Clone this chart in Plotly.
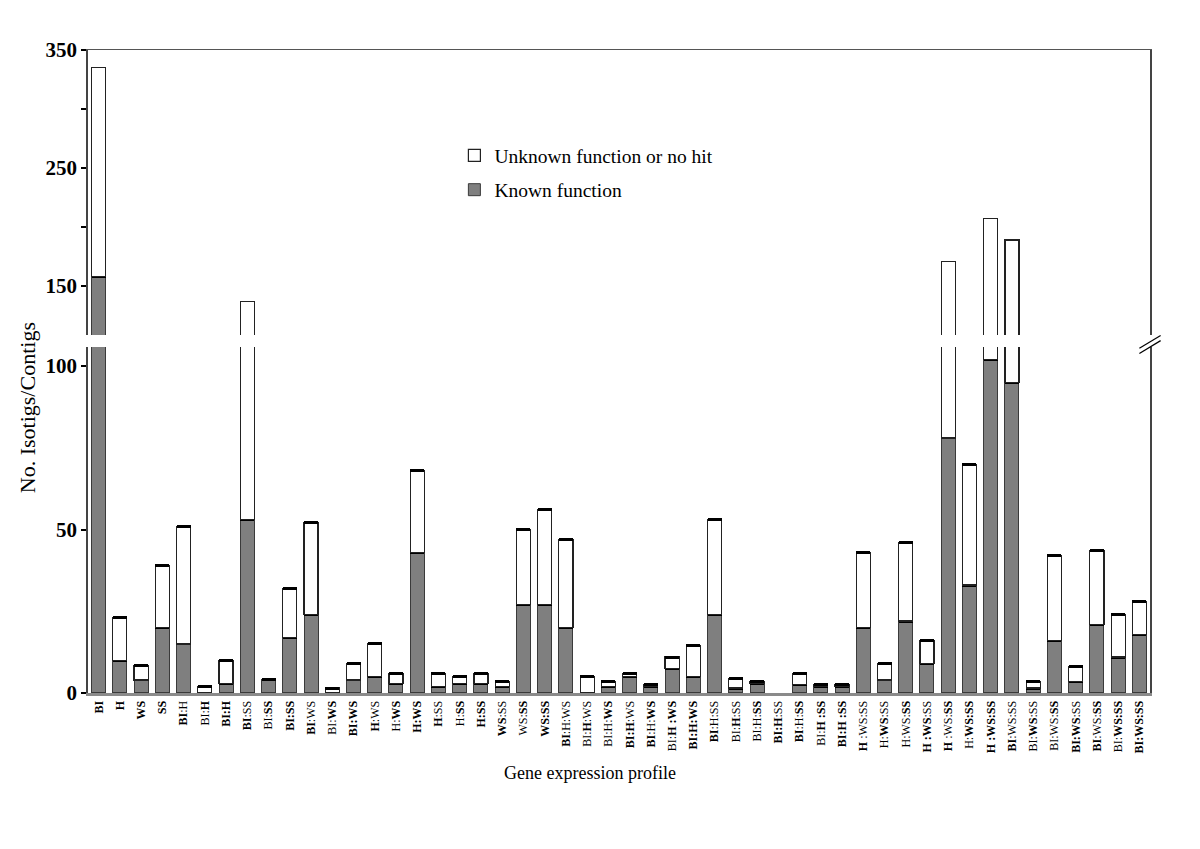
import plotly.graph_objects as go

# x categories (bold marks the tissue(s) in the original labels)
labels = [
    "<b>BI</b>", "<b>H</b>", "<b>WS</b>", "<b>SS</b>",
    "<b>BI</b>:H", "BI:<b>H</b>", "<b>BI:H</b>",
    "<b>BI</b>:SS", "BI:<b>SS</b>", "<b>BI:SS</b>",
    "<b>BI</b>:WS", "BI:<b>WS</b>", "<b>BI:WS</b>",
    "<b>H</b>:WS", "H:<b>WS</b>", "<b>H:WS</b>",
    "<b>H</b>:SS", "H:<b>SS</b>", "<b>H:SS</b>",
    "<b>WS</b>:SS", "WS:<b>SS</b>", "<b>WS:SS</b>",
    "<b>BI</b>:H:WS", "BI:<b>H</b>:WS", "BI:H:<b>WS</b>", "<b>BI:H</b>:WS",
    "<b>BI</b>:H:<b>WS</b>", "BI:<b>H :WS</b>", "<b>BI:H:WS</b>",
    "<b>BI</b>:H:SS", "BI:<b>H</b>:SS", "BI:H:<b>SS</b>", "<b>BI:H</b>:SS",
    "<b>BI</b>:H:<b>SS</b>", "BI:<b>H :SS</b>", "<b>BI:H :SS</b>",
    "<b>H</b> :WS:SS", "H:<b>WS</b>:SS", "H:WS:<b>SS</b>", "<b>H :WS</b>:SS",
    "<b>H</b> :WS:<b>SS</b>", "H:<b>WS:SS</b>", "<b>H :WS:SS</b>",
    "<b>BI</b>:WS:SS", "BI:<b>WS</b>:SS", "BI:WS:<b>SS</b>", "<b>BI:WS</b>:SS",
    "<b>BI</b>:WS:<b>SS</b>", "BI:<b>WS:SS</b>", "<b>BI:WS:SS</b>",
]

known = [158, 10, 4, 20, 15, 0, 3, 53, 4, 17,
         24, 0, 4, 5, 3, 43, 2, 3, 3, 2,
         27, 27, 20, 0, 2, 5, 2, 7.5, 5, 24,
         1.5, 3, 0, 2.5, 2, 2, 20, 4, 22, 9,
         78, 33, 102, 95, 1.5, 16, 3.5, 21, 11, 18]

unknown = [177, 13, 4.5, 19, 36, 2, 7, 84, 0, 15,
           28, 1.5, 5, 10, 3, 25, 4, 2, 3, 1.5,
           23, 29, 27, 5, 1.5, 1, 0.5, 3.5, 9.5, 29,
           3, 0.5, 0, 3.5, 0.5, 0.5, 23, 5, 24, 7,
           93, 37, 105, 94, 2, 26, 4.5, 22.5, 13, 10]

y_ticks_low = [0, 50, 100]
y_ticks_high = [150, 200, 250, 300, 350]
y_ticktext_high = ["<b>150</b>", "", "<b>250</b>", "", "<b>350</b>"]

SERIF = "Liberation Serif, Times New Roman, serif"
GREY = "#7f7f7f"

known_v = [v if v else None for v in known]
unknown_v = [v if v else None for v in unknown]

fig = go.Figure()

for xa, ya, show in [("x", "y", True), ("x2", "y2", False)]:
    fig.add_trace(go.Bar(
        x=labels, y=known_v, name="Known function",
        xaxis=xa, yaxis=ya, showlegend=show, legendgroup="known",
        legendrank=2,
        marker=dict(color=GREY, line=dict(color="#3a3a3a", width=1)),
        error_y=dict(type="data", array=[0] * len(labels), width=7,
                     thickness=3, color="black"),
    ))
    fig.add_trace(go.Bar(
        x=labels, y=unknown_v, name="Unknown function or no hit",
        xaxis=xa, yaxis=ya, showlegend=show, legendgroup="unknown",
        legendrank=1,
        marker=dict(color="white", line=dict(color="#222222", width=1.2)),
        error_y=dict(type="data", array=[0] * len(labels), width=7,
                     thickness=3, color="black", visible=(ya == "y")),
    ))

low_top = 105.8
high_bottom = 108.5

fig.update_layout(
    width=1200, height=849,
    margin=dict(l=80, r=58, t=42, b=164),
    paper_bgcolor="white", plot_bgcolor="white",
    barmode="stack", bargap=0.34,
    font=dict(family=SERIF, color="black"),
    xaxis=dict(
        type="category", categoryorder="array", categoryarray=labels,
        range=[-0.5, len(labels) - 0.5], anchor="y",
        showline=True, linecolor="#8a8a8a", linewidth=3,
        showgrid=False, ticks="", tickangle=-90,
        tickfont=dict(family=SERIF, size=12, color="black"),
    ),
    xaxis2=dict(
        type="category", matches="x", anchor="y2", side="top",
        showline=True, linecolor="#555555", linewidth=1,
        showgrid=False, showticklabels=False, ticks="",
    ),
    yaxis=dict(
        domain=[0, 0.538], range=[0, low_top],
        tickvals=y_ticks_low, ticktext=["<b>%d</b>" % v for v in y_ticks_low],
        ticks="outside", ticklen=5, tickwidth=2,
        tickcolor="black", showline=True, linecolor="#444444", linewidth=1.5,
        mirror=True, showgrid=False, zeroline=False,
        tickfont=dict(family=SERIF, size=21, color="black"),
        ticklabelstandoff=0,
    ),
    yaxis2=dict(
        domain=[0.5568, 1], range=[high_bottom, 350],
        tickvals=y_ticks_high, ticktext=y_ticktext_high,
        ticks="outside", ticklen=5, tickwidth=1.5, tickcolor="black",
        showline=True, linecolor="#444444", linewidth=1.5, mirror=True,
        showgrid=False, zeroline=False,
        tickfont=dict(family=SERIF, size=21, color="black"),
        ticklabelstandoff=0,
    ),
    legend=dict(
        x=0.345, y=0.866, xanchor="left", yanchor="top",
        traceorder="grouped", tracegroupgap=6,
        font=dict(family=SERIF, size=19.5, color="black"),
        bgcolor="rgba(0,0,0,0)",
    ),
    annotations=[
        dict(text="No. Isotigs/Contigs", xref="paper", yref="paper",
             x=-0.0574, y=0.443, xanchor="center", yanchor="middle",
             textangle=-90, showarrow=False,
             font=dict(family=SERIF, size=22)),
        dict(text="Gene expression profile", xref="paper", yref="paper",
             x=0.4727, y=-0.1244, xanchor="center", yanchor="middle",
             showarrow=False, font=dict(family=SERIF, size=18)),
    ],
    shapes=[
        dict(type="line", xref="paper", yref="paper",
             x0=0.99, x1=1.01, y0=0.528, y1=0.548,
             line=dict(color="black", width=1.2)),
        dict(type="line", xref="paper", yref="paper",
             x0=0.99, x1=1.01, y0=0.536, y1=0.556,
             line=dict(color="black", width=1.2)),
    ],
)

fig.write_html("out.html")
